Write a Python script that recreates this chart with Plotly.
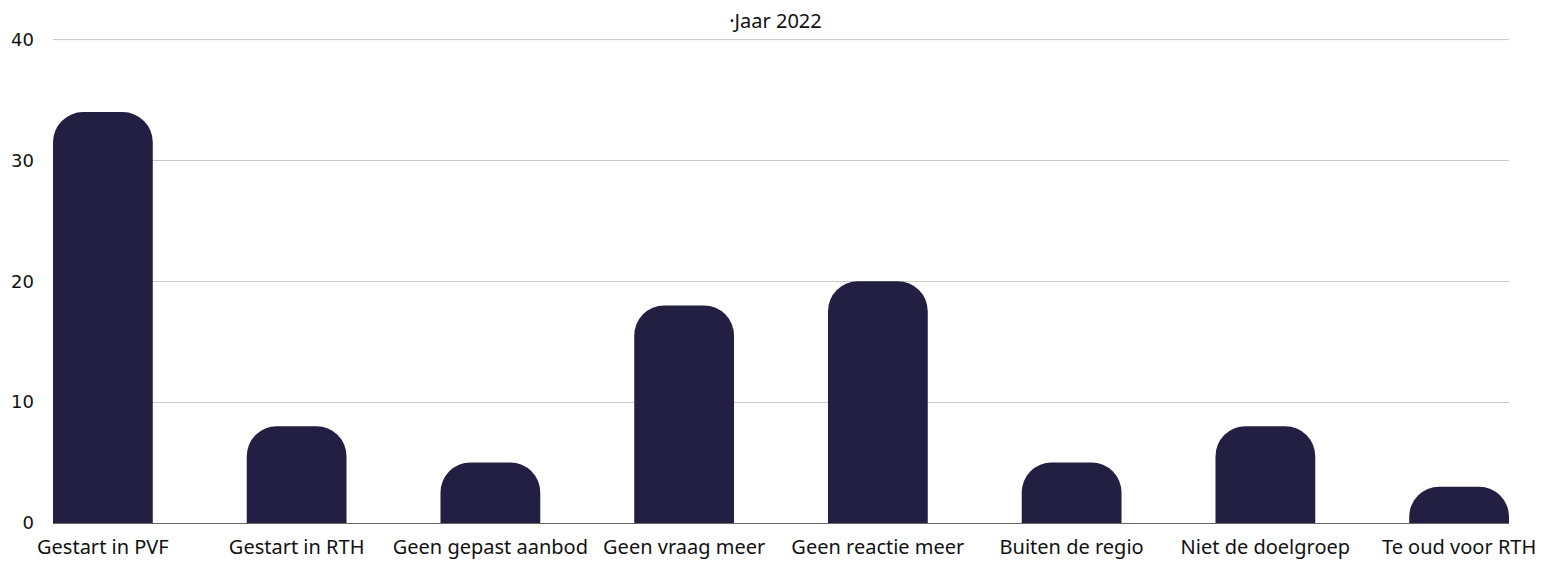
import plotly.graph_objects as go

categories = ["Gestart in PVF", "Gestart in RTH", "Geen gepast aanbod", "Geen vraag meer",
              "Geen reactie meer", "Buiten de regio", "Niet de doelgroep", "Te oud voor RTH"]
values = [34, 8, 5, 18, 20, 5, 8, 3]
y_ticks = [0, 10, 20, 30, 40]
y_tick_labels = ["0", "10", "20", "30", "40"]
title_text = "·Jaar 2022"

# page body has an 8px margin, so the figure is sized/offset to compensate
W, H = 1535, 554

fig = go.Figure()
fig.add_trace(go.Bar(
    x=categories, y=values,
    marker=dict(color="#221f42", cornerradius=30, line=dict(width=0)),
    width=0.515,
    hoverinfo="x+y",
))

fig.update_layout(
    width=W, height=H,
    margin=dict(l=45, r=34, t=31, b=39, pad=0),
    paper_bgcolor="white", plot_bgcolor="white",
    showlegend=False,
    title=dict(text=title_text, x=0.5, xanchor="center", y=1 - 13 / H, yanchor="middle",
               font=dict(family="Noto Sans", size=20, color="#111")),
    font=dict(family="Noto Sans", color="#111"),
)
# top gridline at 40 (plotly drops the gridline lying on the plot edge)
fig.add_hline(y=y_ticks[-1], line=dict(color="#c8c8c8", width=1), layer="below")
fig.update_xaxes(
    range=[-0.2575, 7.2575], automargin=False,
    showgrid=False, showline=True, linecolor="#666", linewidth=1,
    tickfont=dict(family="Noto Sans", size=20, color="#111"),
    ticks="", ticklabelstandoff=6,
)
fig.update_yaxes(
    range=[0, 40.05], tickvals=y_ticks, ticktext=y_tick_labels, automargin=False,
    showgrid=True, gridcolor="#c8c8c8", gridwidth=1,
    zeroline=False, showline=False,
    tickfont=dict(family="DejaVu Sans", size=18, color="#111"),
    ticks="", ticklabelstandoff=18,
)
fig.write_html("out.html")
